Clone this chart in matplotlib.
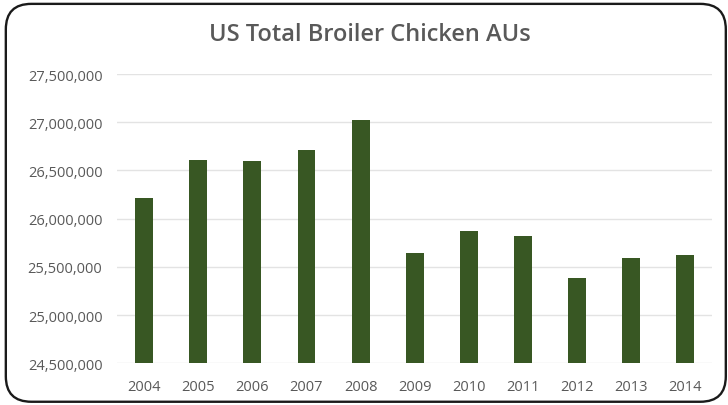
import matplotlib
matplotlib.use("Agg")
import matplotlib.pyplot as plt
from matplotlib.patches import FancyBboxPatch
from matplotlib.ticker import FuncFormatter, MultipleLocator

years = ["2004", "2005", "2006", "2007", "2008", "2009", "2010", "2011", "2012", "2013", "2014"]
values = [26215000, 26607000, 26596000, 26710000, 27028000, 25648000,
          25872000, 25816000, 25382000, 25593000, 25627000]
y_min, y_max, y_step = 24500000, 27500000, 500000
title = "US Total Broiler Chicken AUs"

plt.rcParams['font.family'] = ['Open Sans', 'DejaVu Sans']

fig = plt.figure(figsize=(7.28, 4.06), dpi=100)
fig.patch.set_facecolor('white')

border = FancyBboxPatch((0.008, 0.008), 0.989, 0.980,
                        boxstyle="round,pad=0,rounding_size=0.035",
                        transform=fig.transFigure, fill=False,
                        edgecolor='#1a1a1a', linewidth=1.7, mutation_aspect=728/406)
fig.patches.append(border)

ax = fig.add_axes([0.1607, 0.1027, 0.818, 0.7125])
x = list(range(len(years)))
ax.bar(x, values, width=0.33, color='#385723', zorder=3)
ax.set_xlim(-0.5, len(years) - 0.5)
ax.set_ylim(y_min, y_max)
ax.yaxis.set_major_locator(MultipleLocator(y_step))
ax.yaxis.set_major_formatter(FuncFormatter(lambda v, p: f"{int(round(v)):,}"))
ax.set_xticks(x)
ax.set_xticklabels(years)
ax.grid(axis='y', color='#e3e3e3', linewidth=1, zorder=0)
for s in ax.spines.values():
    s.set_visible(False)
ax.tick_params(axis='y', length=0, colors='#595959', labelsize=10.5, pad=10.5)
ax.tick_params(axis='x', length=0, colors='#595959', labelsize=10.5, pad=11)

fig.text(0.508, 0.914, title, ha='center', va='center', fontsize=17,
         color='#595959', fontweight='semibold')

fig.savefig("out.png", dpi=100, facecolor='white')
